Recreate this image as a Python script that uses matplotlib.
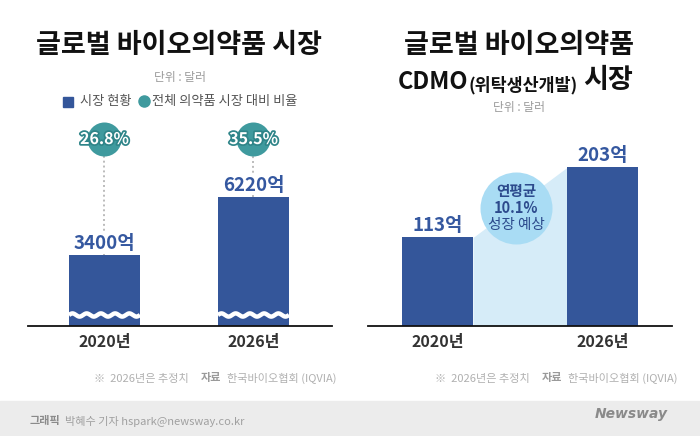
import numpy as np
import matplotlib
matplotlib.use('Agg')
import matplotlib.pyplot as plt
from matplotlib.patches import Rectangle
import matplotlib.patheffects as pe

plt.rcParams['font.family'] = ['Noto Sans CJK KR', 'DejaVu Sans']

# data
years = ['2020년', '2026년']
bio_market = [3400, 6220]            # 억 달러
bio_labels = ['3400억', '6220억']
bio_share = ['26.8%', '35.5%']       # 전체 의약품 시장 대비 비율
cdmo_market = [113, 203]             # 억 달러
cdmo_labels = ['113억', '203억']
cagr_text = '10.1%'

BLUE = '#34569a'
LBLUE = '#3558a0'
TEAL = '#3f9a9e'
GRAY = '#9a9a9a'
DARK = '#222222'

W, H = 700, 436
fig = plt.figure(figsize=(7, 4.36), dpi=100)
fig.patch.set_facecolor('white')


def fx(x):
    return x / W


def fy(y):
    return 1 - y / H


def chain(ax, first, parts):
    # place text pieces one after another on the same line
    prev = first
    for txt, kw in parts:
        prev = ax.annotate(txt, xy=(1, 0), xycoords=prev, xytext=(kw.pop('gap', 0), 0),
                           textcoords='offset points', va='bottom', ha='left',
                           annotation_clip=False, **kw)
    return prev


# footer band (drawn first, behind everything)
fig.patches.append(Rectangle((0, 0), 1, 35 / H, transform=fig.transFigure, color='#ececec', zorder=-10))

# ---------------- left panel ----------------
ax1 = fig.add_axes([fx(28), fy(326), fx(332 - 28), 206 / H])
ymax1 = bio_market[1] * 206 / 129
ax1.set_xlim(-0.513, 1.527)
ax1.set_ylim(0, ymax1)
bw1 = 0.477
x1 = np.arange(len(years))
ax1.bar(x1, bio_market, width=bw1, color=BLUE, zorder=3)

px1 = ymax1 / 206  # data units per pixel
# wavy white break near bottom
for xi in x1:
    xs = np.linspace(xi - bw1 / 2, xi + bw1 / 2, 200)
    ys = 11 * px1 + 1.6 * px1 * np.sin((xs - (xi - bw1 / 2)) / bw1 * 2 * np.pi * 5)
    ax1.plot(xs, ys, color='white', lw=3.2, zorder=4, solid_capstyle='butt')

circ_y = (326 - 139) * px1
for xi, v, lab, sh in zip(x1, bio_market, bio_labels, bio_share):
    ax1.plot([xi, xi], [v, circ_y], color='#bbbbbb', ls=(0, (1, 1.5)), lw=1.4, zorder=2, clip_on=False)
    ax1.annotate(lab, xy=(xi, v), xytext=(0, 12), textcoords='offset pixels', ha='center', va='center',
                 fontsize=13.5, fontweight='bold', color=LBLUE, zorder=5,
                 bbox=dict(boxstyle='square,pad=0.05', fc='white', ec='none'))
    ax1.scatter([xi], [circ_y], s=600, color=TEAL, zorder=5, clip_on=False, linewidths=0)
    ax1.text(xi, circ_y, sh, ha='center', va='center', fontsize=11.5, fontweight='bold', color='white', zorder=6,
             path_effects=[pe.withStroke(linewidth=2.5, foreground='#2f8589')])

# ---------------- right panel ----------------
ax2 = fig.add_axes([fx(368), fy(326), fx(672 - 368), 206 / H])
ymax2 = cdmo_market[1] * 206 / 159
ax2.set_xlim(-0.42, 1.417)
ax2.set_ylim(0, ymax2)
bw2 = 0.429
x2 = np.arange(len(years))
ax2.fill_between([x2[0] + bw2 / 2, x2[1] - bw2 / 2], [cdmo_market[0], cdmo_market[1]], 0,
                 color='#d6ecf8', lw=0, zorder=1)
ax2.bar(x2, cdmo_market, width=bw2, color=BLUE, zorder=3)
for xi, v, lab in zip(x2, cdmo_market, cdmo_labels):
    ax2.annotate(lab, xy=(xi, v), xytext=(0, 12), textcoords='offset pixels', ha='center', va='center',
                 fontsize=13.5, fontweight='bold', color=LBLUE, zorder=5)

px2 = ymax2 / 206
cx, cy = 0.474, (326 - 208) * px2
ax2.scatter([cx], [cy], s=(72 * 0.72) ** 2, color='#a9dcf4', zorder=4, linewidths=0)
ax2.text(cx, cy + 17 * px2, '연평균', ha='center', va='center', fontsize=10.5, fontweight='bold', color='#2c4a8c', zorder=5)
ax2.text(cx, cy, cagr_text, ha='center', va='center', fontsize=10.5, fontweight='bold', color='#2c4a8c', zorder=5)
ax2.text(cx, cy - 17 * px2, '성장 예상', ha='center', va='center', fontsize=10.5, color='#2c4a8c', zorder=5)

for ax in (ax1, ax2):
    for s in ('top', 'right', 'left'):
        ax.spines[s].set_visible(False)
    ax.spines['bottom'].set_linewidth(1.3)
    ax.spines['bottom'].set_color('#111111')
    ax.spines['bottom'].set_zorder(6)
    ax.set_yticks([])
    ax.set_xticks(range(len(years)))
    ax.set_xticklabels(years, fontsize=11.5, fontweight='bold', color='#333333')
    ax.tick_params(axis='x', length=0, pad=6)
    ax.patch.set_alpha(0)

# ---------------- titles ----------------
TW = 900
fig.text(fx(179), fy(45), '글로벌 바이오의약품 시장', ha='center', va='center', fontsize=19.5, fontweight=TW, color='#111111')
fig.text(fx(180), fy(77), '단위 : 달러', ha='center', va='center', fontsize=8.5, color=GRAY)

# legend
fig.patches.append(Rectangle((fx(63), fy(107)), fx(10), 10 / H, transform=fig.transFigure, color=BLUE))
fig.text(fx(80), fy(101), '시장 현황', ha='left', va='center', fontsize=9.5, color='#555555')
fig.add_artist(plt.Line2D([fx(144)], [fy(101)], marker='o', markersize=8, color=TEAL, transform=fig.transFigure))
fig.text(fx(152), fy(101), '전체 의약품 시장 대비 비율', ha='left', va='center', fontsize=9.5, color='#555555')

fig.text(fx(519), fy(45), '글로벌 바이오의약품', ha='center', va='center', fontsize=19.5, fontweight=TW, color='#111111')
t = fig.text(fx(398), fy(94), 'CDMO', ha='left', va='bottom', fontsize=17, fontweight=TW, color='#111111')
chain(ax2, t, [('(위탁생산개발)', dict(fontsize=12.5, fontweight=TW, color='#111111', gap=0)),
               ('시장', dict(fontsize=19.5, fontweight=TW, color='#111111', gap=4))])
fig.text(fx(519), fy(107), '단위 : 달러', ha='center', va='center', fontsize=8.5, color=GRAY)

# footnotes
for x0 in (94, 435):
    t = fig.text(fx(x0), fy(384), '※  2026년은 추정치', ha='left', va='bottom', fontsize=8, color='#b0b0b0')
    chain(ax1, t, [('자료', dict(fontsize=8, fontweight='bold', color='#9a9a9a', gap=9)),
                   ('한국바이오협회 (IQVIA)', dict(fontsize=8, color='#b0b0b0', gap=4))])

# footer text
t = fig.text(fx(30), fy(427), '그래픽', ha='left', va='bottom', fontsize=8, fontweight='bold', color='#8a8a8a')
chain(ax1, t, [('박혜수 기자 hspark@newsway.co.kr', dict(fontsize=8, color='#a0a0a0', gap=3))])
fig.text(fx(668), fy(414), 'Newsway', ha='right', va='center', fontsize=10, fontweight='bold',
         style='italic', color='#8a8a8a', family=['Liberation Sans Narrow', 'DejaVu Sans'])

fig.savefig('out.png', dpi=100)
